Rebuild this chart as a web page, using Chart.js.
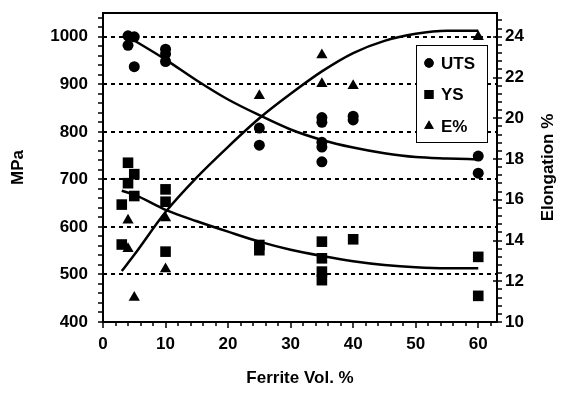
<!DOCTYPE html>
<html>
<head>
<meta charset="utf-8">
<style>
  html, body { margin: 0; padding: 0; background: #fff; }
</style>
<script src="https://cdn.jsdelivr.net/npm/chart.js@4.4.1/dist/chart.umd.min.js"></script>
</head>
<body>
<canvas id="ferriteChart" width="564" height="394"></canvas>
<script>
// Tensile results vs ferrite volume fraction
const utsX = [4, 5, 4, 5, 10, 10, 10, 25, 25, 35, 35, 35, 35, 35, 40, 40, 60, 60];
const utsY = [1002, 1000, 982, 937, 974, 964, 948, 808, 772, 830, 820, 778, 768, 737, 833, 825, 749, 713];
const ysX = [4, 5, 4, 5, 3, 3, 10, 10, 10, 25, 25, 35, 35, 35, 35, 40, 60, 60];
const ysY = [735, 711, 692, 665, 647, 563, 679, 653, 548, 562, 551, 569, 534, 506, 488, 574, 537, 455];
const elX = [4, 4, 5, 10, 10, 25, 35, 35, 40, 60];
const elY = [15.0, 13.6, 11.2, 15.1, 12.6, 21.1, 23.1, 21.7, 21.6, 24.0];

// trend lines
const utsFitX = [4, 10, 15, 20, 25, 30, 35, 40, 45, 50, 55, 60];
const utsFitY = [1000, 952, 908, 868, 835, 805, 783, 767, 755, 747, 744, 742];
const ysFitX = [3, 5, 10, 15, 20, 25, 30, 35, 40, 45, 50, 55, 60];
const ysFitY = [676, 668, 636, 612, 590, 569, 552, 539, 528, 520, 515, 513, 513];
const elFitX = [3, 5, 10, 15, 20, 25, 30, 35, 40, 45, 50, 55, 60];
const elFitY = [12.5, 13.3, 15.4, 17.1, 18.6, 20.0, 21.2, 22.3, 23.2, 23.8, 24.15, 24.3, 24.3];

// tick labels
const xTicks = [0, 10, 20, 30, 40, 50, 60];
const mpaTicks = [400, 500, 600, 700, 800, 900, 1000];
const elTicks = [10, 12, 14, 16, 18, 20, 22, 24];

const FONT = '"Liberation Sans", Arial, sans-serif';
const tickFont = { family: FONT, size: 17, weight: 'bold' };

function pts(xs, ys) {
    return xs.map((x, i) => ({ x: x, y: ys[i] }));
}

// frame, tick marks, axis titles and the boxed legend
const decor = {
    id: 'decor',
    afterDatasetsDraw(chart) {
        const { ctx, chartArea: a, scales } = chart;
        ctx.save();
        ctx.strokeStyle = '#000';
        ctx.lineWidth = 2;
        ctx.strokeRect(a.left, a.top, a.right - a.left, a.bottom - a.top);

        ctx.lineWidth = 1.5;
        ctx.beginPath();
        for (let v = 0; v <= scales.x.max; v += 2) {
            const px = Math.round(scales.x.getPixelForValue(v));
            ctx.moveTo(px, a.bottom);
            ctx.lineTo(px, a.bottom + (v % 10 === 0 ? 6 : 4));
        }
        for (let v = 400; v <= scales.y.max; v += 20) {
            const py = Math.round(scales.y.getPixelForValue(v));
            ctx.moveTo(a.left - 5, py);
            ctx.lineTo(a.left + (v % 100 === 0 ? 4 : 0), py);
        }
        for (let i = 0; 10 + i * 0.4 <= scales.y2.max; i++) {
            const py = Math.round(scales.y2.getPixelForValue(10 + i * 0.4));
            ctx.moveTo(a.right - (i % 5 === 0 ? 4 : 0), py);
            ctx.lineTo(a.right + 5, py);
        }
        ctx.stroke();

        // axis titles
        ctx.fillStyle = '#000';
        ctx.font = 'bold 17px ' + FONT;
        ctx.textAlign = 'center';
        ctx.textBaseline = 'middle';
        ctx.fillText('Ferrite Vol. %', (a.left + a.right) / 2, 378);
        ctx.save();
        ctx.translate(18, (a.top + a.bottom) / 2);
        ctx.rotate(-Math.PI / 2);
        ctx.fillText('MPa', 0, 0);
        ctx.restore();
        ctx.save();
        ctx.translate(548, (a.top + a.bottom) / 2);
        ctx.rotate(-Math.PI / 2);
        ctx.fillText('Elongation %', 0, 0);
        ctx.restore();

        // legend
        const bx = a.right - 81, by = a.top + 32, bw = 71, bh = 97;
        ctx.fillStyle = '#fff';
        ctx.fillRect(bx, by, bw, bh);
        ctx.lineWidth = 1;
        ctx.strokeRect(bx + 0.5, by + 0.5, bw, bh);
        ctx.textAlign = 'left';
        chart.data.datasets.filter(d => d.label).forEach((d, i) => {
            const cy = by + 18 + i * 31.5;
            ctx.fillStyle = '#000';
            Chart.helpers.drawPoint(ctx, {
                pointStyle: d.pointStyle, radius: d.pointRadius * 0.85,
                borderWidth: 0
            }, bx + 13, cy);
            ctx.fill();
            ctx.fillText(d.label, bx + 25, cy + 1);
        });
        ctx.restore();
    }
};

new Chart(document.getElementById('ferriteChart'), {
    type: 'scatter',
    data: {
        datasets: [
            {
                label: 'UTS',
                data: pts(utsX, utsY),
                pointStyle: 'circle',
                pointRadius: 5.5,
                backgroundColor: '#000',
                borderWidth: 0,
                yAxisID: 'y'
            },
            {
                label: 'YS',
                data: pts(ysX, ysY),
                pointStyle: 'rect',
                pointRadius: 7.5,
                backgroundColor: '#000',
                borderWidth: 0,
                yAxisID: 'y'
            },
            {
                label: 'E%',
                data: pts(elX, elY),
                pointStyle: 'triangle',
                pointRadius: 6.5,
                backgroundColor: '#000',
                borderWidth: 0,
                yAxisID: 'y2'
            },
            {
                data: pts(utsFitX, utsFitY),
                showLine: true,
                pointRadius: 0,
                borderColor: '#000',
                borderWidth: 2.5,
                cubicInterpolationMode: 'monotone',
                yAxisID: 'y'
            },
            {
                data: pts(ysFitX, ysFitY),
                showLine: true,
                pointRadius: 0,
                borderColor: '#000',
                borderWidth: 2.5,
                cubicInterpolationMode: 'monotone',
                yAxisID: 'y'
            },
            {
                data: pts(elFitX, elFitY),
                showLine: true,
                pointRadius: 0,
                borderColor: '#000',
                borderWidth: 2.5,
                cubicInterpolationMode: 'monotone',
                yAxisID: 'y2'
            }
        ]
    },
    options: {
        responsive: false,
        devicePixelRatio: 1,
        animation: false,
        layout: {
            padding: { top: 13, left: 0, right: 0, bottom: 0 }
        },
        plugins: {
            legend: { display: false },
            tooltip: { enabled: false }
        },
        scales: {
            x: {
                type: 'linear',
                min: 0,
                max: 63,
                grid: { display: false, drawTicks: false },
                border: { display: false },
                afterBuildTicks: s => { s.ticks = xTicks.map(v => ({ value: v })); },
                afterFit: s => { s.height = 72; s.paddingLeft = 0; s.paddingRight = 0; },
                ticks: { color: '#000', font: tickFont, padding: 12, callback: v => String(v) }
            },
            y: {
                position: 'left',
                min: 400,
                max: 1050,
                grid: {
                    color: c => c.tick && c.tick.value === 400 ? 'rgba(0,0,0,0)' : '#000',
                    lineWidth: 2,
                    drawTicks: false
                },
                border: { display: false, dash: [4, 4] },
                afterBuildTicks: s => { s.ticks = mpaTicks.map(v => ({ value: v })); },
                afterFit: s => { s.width = 103; s.paddingTop = 0; s.paddingBottom = 0; },
                ticks: { color: '#000', font: tickFont, padding: 15, callback: v => String(v) }
            },
            y2: {
                position: 'right',
                min: 10,
                max: 10 + 650 * 14 / 600,
                grid: { display: false, drawTicks: false },
                border: { display: false },
                afterBuildTicks: s => { s.ticks = elTicks.map(v => ({ value: v })); },
                afterFit: s => { s.width = 67; s.paddingTop = 0; s.paddingBottom = 0; },
                ticks: { color: '#000', font: tickFont, padding: 8, callback: v => String(v) }
            }
        }
    },
    plugins: [decor]
});
</script>
</body>
</html>
